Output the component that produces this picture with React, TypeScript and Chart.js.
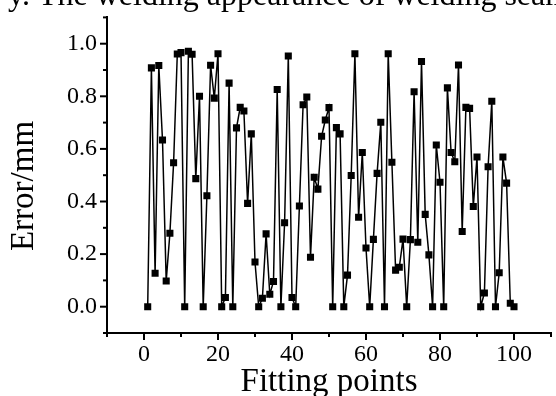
import React, { useEffect, useRef } from "react";
import { Chart, registerables } from "chart.js";

Chart.register(...registerables);

const pointIndex: number[] = Array.from({ length: 100 }, (_, i) => i + 1);

const errorValues: number[] = [
  0, 0.908, 0.127, 0.917, 0.634, 0.098, 0.279, 0.547, 0.961, 0.966,
  0, 0.971, 0.96, 0.487, 0.8, 0, 0.422, 0.918, 0.793, 0.962,
  0, 0.035, 0.85, 0, 0.68, 0.758, 0.744, 0.393, 0.657, 0.17,
  0, 0.032, 0.277, 0.047, 0.096, 0.826, 0, 0.319, 0.953, 0.035,
  0, 0.383, 0.768, 0.797, 0.188, 0.492, 0.447, 0.648, 0.71, 0.757,
  0, 0.681, 0.657, 0, 0.12, 0.499, 0.962, 0.34, 0.586, 0.223,
  0, 0.256, 0.507, 0.701, 0, 0.962, 0.549, 0.139, 0.15, 0.257,
  0, 0.255, 0.817, 0.245, 0.932, 0.351, 0.197, 0, 0.615, 0.473,
  0, 0.832, 0.586, 0.551, 0.919, 0.286, 0.758, 0.754, 0.381, 0.569,
  0, 0.052, 0.532, 0.781, 0, 0.129, 0.569, 0.47, 0.013, 0,
];

const xTitle = "Fitting points";
const yTitle = "Error/mm";
const topText = "y. The welding appearance of welding seam";

const SERIF = "'Liberation Serif', 'Times New Roman', serif";

export default function App() {
  const ref = useRef<HTMLCanvasElement | null>(null);

  useEffect(() => {
    document.body.style.margin = "0";
    const canvas = ref.current;
    if (!canvas) return;

    const decorPlugin = {
      id: "decor",
      afterDraw(chart: any) {
        const ctx = chart.ctx;
        const xs = chart.scales.x;
        const ys = chart.scales.y;
        const area = chart.chartArea;
        ctx.save();
        ctx.strokeStyle = "#000";
        ctx.lineWidth = 2;
        // x ticks
        xs.ticks.forEach((t: any) => {
          const px = xs.getPixelForValue(t.value);
          const major = Math.round(t.value) % 20 === 0;
          const len = major ? 7 : 4;
          ctx.beginPath();
          ctx.moveTo(px, area.bottom);
          ctx.lineTo(px, area.bottom + len);
          ctx.stroke();
        });
        // y ticks
        ys.ticks.forEach((t: any) => {
          const py = ys.getPixelForValue(t.value);
          const n = Math.round(t.value * 10);
          const major = n % 2 === 0;
          const len = major ? 7 : 4;
          ctx.beginPath();
          ctx.moveTo(area.left, py);
          ctx.lineTo(area.left - len, py);
          ctx.stroke();
        });
        // titles
        ctx.fillStyle = "#000";
        ctx.font = `33px ${SERIF}`;
        ctx.textAlign = "center";
        ctx.textBaseline = "alphabetic";
        ctx.fillText(xTitle, (area.left + area.right) / 2, 391);
        ctx.save();
        ctx.translate(33, 186);
        ctx.rotate(-Math.PI / 2);
        ctx.fillText(yTitle, 0, 0);
        ctx.restore();
        // cropped text at top
        ctx.font = `32px ${SERIF}`;
        ctx.textAlign = "left";
        ctx.fillText(topText, 8, 5);
        ctx.restore();
      },
    };

    const chart = new Chart(canvas, {
      type: "line",
      data: {
        labels: pointIndex,
        datasets: [
          {
            data: pointIndex.map((x, i) => ({ x, y: errorValues[i] })),
            borderColor: "#000",
            borderWidth: 1.5,
            backgroundColor: "#000",
            pointStyle: "rect",
            pointRadius: 5,
            pointBorderWidth: 0,
            pointBackgroundColor: "#000",
            tension: 0,
          },
        ],
      },
      options: {
        responsive: false,
        animation: false,
        layout: { padding: { top: 15, right: 0, left: 0, bottom: 0 } },
        plugins: {
          legend: { display: false },
          tooltip: { enabled: false },
          title: { display: false },
        },
        scales: {
          x: {
            type: "linear",
            min: -10,
            max: 110,
            grid: { display: false, drawTicks: true, tickLength: 7 },
            border: { display: true, color: "#000", width: 2 },
            ticks: {
              stepSize: 10,
              autoSkip: false,
              maxRotation: 0,
              padding: 0,
              color: "#000",
              font: { family: SERIF, size: 24 },
              callback: (v: any) => (Math.round(v) % 20 === 0 ? String(Math.round(v)) : ""),
            },
            afterFit: (s: any) => {
              s.height = 63;
            },
          },
          y: {
            type: "linear",
            min: -0.1,
            max: 1.1,
            grid: { display: false, drawTicks: true, tickLength: 7 },
            border: { display: true, color: "#000", width: 2 },
            ticks: {
              stepSize: 0.1,
              autoSkip: false,
              padding: 3,
              color: "#000",
              font: { family: SERIF, size: 24 },
              callback: (v: any) => {
                const n = Math.round(v * 10);
                return n % 2 === 0 ? (n / 10).toFixed(1) : "";
              },
            },
            afterFit: (s: any) => {
              s.width = 107;
            },
          },
        },
      },
      plugins: [decorPlugin],
    });

    return () => chart.destroy();
  }, []);

  return (
    <div style={{ width: 556, height: 396 }}>
      <canvas ref={ref} width={556} height={396} />
    </div>
  );
}
